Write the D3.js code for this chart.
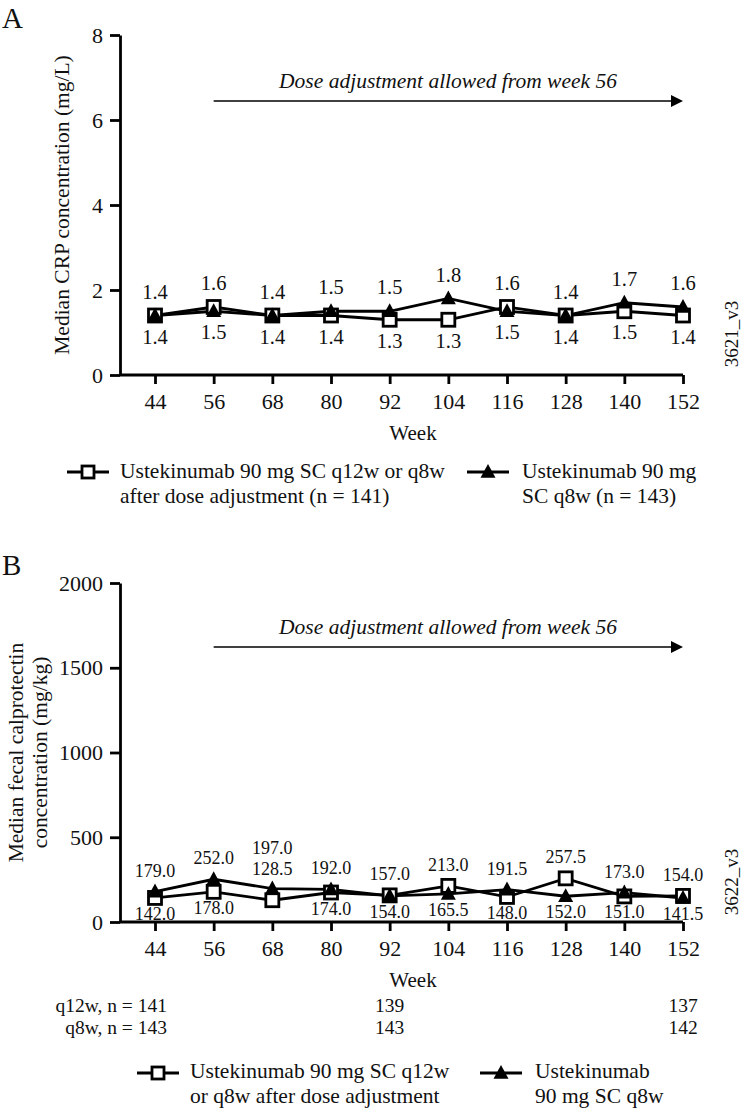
<!DOCTYPE html>
<html><head><meta charset="utf-8">
<script src="https://cdn.jsdelivr.net/npm/d3@7"></script>
<style>
html,body{margin:0;padding:0;background:#fff;}
svg text{font-family:"Liberation Serif","Times New Roman",serif;fill:#111;}
</style></head>
<body>
<svg id="c" width="742" height="1109"></svg>
<script>
// ---------- data ----------
const weeks = [44, 56, 68, 80, 92, 104, 116, 128, 140, 152];
const crpQ12 = [1.4, 1.6, 1.4, 1.4, 1.3, 1.3, 1.6, 1.4, 1.5, 1.4];
const crpQ8  = [1.4, 1.5, 1.4, 1.5, 1.5, 1.8, 1.5, 1.4, 1.7, 1.6];
const fcpQ12 = [142.0, 178.0, 128.5, 174.0, 157.0, 213.0, 148.0, 257.5, 151.0, 154.0];
const fcpQ8  = [179.0, 252.0, 197.0, 192.0, 154.0, 165.5, 191.5, 152.0, 173.0, 141.5];
const crpTicks = [0, 2, 4, 6, 8];
const fcpTicks = [0, 500, 1000, 1500, 2000];
const nWeeks = [44, 92, 152];
const nQ12 = [141, 139, 137];
const nQ8 = [143, 143, 142];
const fcpStackedWeeks = [68];
const doseText = "Dose adjustment allowed from week 56";
const doseStartWeek = 56;

const FONT = "Liberation Serif, Times New Roman, serif";
const svg = d3.select("#c");
const x = d3.scaleLinear().domain([44, 152]).range([155, 683]);
const axisLeftX = 120;

function squareSym(g, cx, cy, s) {
  g.append("rect").attr("x", cx - s/2).attr("y", cy - s/2).attr("width", s).attr("height", s)
    .attr("fill", "#fff").attr("stroke", "#000").attr("stroke-width", 2.8);
}
function triSym(g, cx, cy, s) {
  g.append("path").attr("d", `M${cx},${cy - s*0.62}L${cx + s/2 + 1},${cy + s*0.45}L${cx - s/2 - 1},${cy + s*0.45}Z`)
    .attr("fill", "#000");
}

function panel(opt) {
  const g = svg.append("g");
  const y = d3.scaleLinear().domain([opt.ticks[0], opt.ticks[opt.ticks.length-1]]).range([opt.y0, opt.y1]);
  g.append("text").attr("x", 2).attr("y", opt.letterY).attr("font-size", 29).text(opt.letter);
  // y axis
  const ya = g.append("g").attr("transform", `translate(${axisLeftX},0)`)
    .call(d3.axisLeft(y).tickValues(opt.ticks).tickSize(10).tickSizeOuter(0).tickFormat(d3.format("d")));
  ya.select(".domain").attr("stroke-width", 2.8);
  ya.selectAll(".tick line").attr("stroke-width", 2.8);
  ya.selectAll(".tick text").attr("font-size", 22).attr("x", -17);
  // x axis
  const xa = g.append("g").attr("transform", `translate(0,${opt.y0})`)
    .call(d3.axisBottom(x).tickValues(weeks).tickSize(9).tickSizeOuter(0));
  xa.select(".domain").remove();
  xa.append("line").attr("x1", axisLeftX).attr("x2", x(152)).attr("stroke", "#000").attr("stroke-width", 2.8);
  xa.selectAll(".tick line").attr("stroke-width", 2.8);
  xa.selectAll(".tick text").attr("font-size", 22).attr("dy", "1.0em");
  g.append("text").attr("x", 413).attr("y", opt.y0 + 65).attr("text-anchor", "middle").attr("font-size", 21).text("Week");
  // y label
  const yl = g.append("text").attr("transform", `translate(0,${(opt.y0+opt.y1)/2}) rotate(-90)`)
    .attr("text-anchor", "middle").attr("font-size", 21.5);
  opt.ylabel.forEach((t, i) => yl.append("tspan").attr("x", 0).attr("y", opt.ylabelX[i]).text(t));
  // side code
  g.append("text").attr("transform", `translate(738,${opt.codeY}) rotate(-90)`).attr("text-anchor", "middle")
    .attr("font-size", 19).text(opt.code);
  // dose arrow
  g.append("text").attr("x", 448).attr("y", opt.arrowY - 13).attr("text-anchor", "middle")
    .attr("font-style", "italic").attr("font-size", 21.5).text(doseText);
  g.append("line").attr("x1", x(doseStartWeek)).attr("x2", x(152) - 10).attr("y1", opt.arrowY).attr("y2", opt.arrowY)
    .attr("stroke", "#000").attr("stroke-width", 1.5);
  g.append("path").attr("d", `M${x(152)},${opt.arrowY}L${x(152)-12},${opt.arrowY-6}L${x(152)-12},${opt.arrowY+6}Z`).attr("fill", "#000");
  // lines
  const line = d3.line().x((d, i) => x(weeks[i])).y(d => y(d));
  g.append("path").attr("d", line(opt.a)).attr("fill", "none").attr("stroke", "#000").attr("stroke-width", 2.8);
  g.append("path").attr("d", line(opt.b)).attr("fill", "none").attr("stroke", "#000").attr("stroke-width", 2.8);
  opt.a.forEach((v, i) => squareSym(g, x(weeks[i]), y(v), 13));
  opt.b.forEach((v, i) => triSym(g, x(weeks[i]), y(v), 13));
  // data labels
  const fmt = d3.format(".1f");
  weeks.forEach((w, i) => {
    const hi = Math.max(opt.a[i], opt.b[i]), lo = Math.min(opt.a[i], opt.b[i]);
    if (opt.stacked.includes(w)) {
      g.append("text").attr("x", x(w)).attr("y", y(hi) - opt.topOff - 20).attr("text-anchor", "middle").attr("font-size", opt.lblSize).text(fmt(hi));
      g.append("text").attr("x", x(w)).attr("y", y(hi) - opt.topOff + 1).attr("text-anchor", "middle").attr("font-size", opt.lblSize).text(fmt(lo));
    } else {
      g.append("text").attr("x", x(w)).attr("y", y(hi) - opt.topOff).attr("text-anchor", "middle").attr("font-size", opt.lblSize).text(fmt(hi));
      g.append("text").attr("x", x(w)).attr("y", y(lo) + opt.botOff).attr("text-anchor", "middle").attr("font-size", opt.lblSize).text(fmt(lo));
    }
  });
  return {g, y};
}

panel({letter: "A", letterY: 28, ticks: crpTicks, y0: 375, y1: 35,
  ylabel: ["Median CRP concentration (mg/L)"], ylabelX: [69],
  code: "3621_v3", codeY: 334, arrowY: 101, a: crpQ12, b: crpQ8, stacked: [],
  topOff: 17, botOff: 28, lblSize: 20.5});

panel({letter: "B", letterY: 575, ticks: fcpTicks, y0: 922, y1: 583,
  ylabel: ["Median fecal calprotectin", "concentration (mg/kg)"], ylabelX: [23, 47],
  code: "3622_v3", codeY: 882, arrowY: 647, a: fcpQ12, b: fcpQ8, stacked: fcpStackedWeeks,
  topOff: 15, botOff: 22, lblSize: 18});

// n row (panel B)
nWeeks.forEach((w, i) => {
  const t1 = i === 0 ? "q12w, n = " + nQ12[i] : String(nQ12[i]);
  const t2 = i === 0 ? "q8w, n = " + nQ8[i] : String(nQ8[i]);
  const anchor = i === 0 ? "end" : "middle";
  const xx = i === 0 ? x(w) + 12 : x(w);
  svg.append("text").attr("x", xx).attr("y", 1012).attr("text-anchor", anchor).attr("font-size", 19.5).text(t1);
  svg.append("text").attr("x", xx).attr("y", 1034).attr("text-anchor", anchor).attr("font-size", 19.5).text(t2);
});

// legends
function legend(items) {
  items.forEach(it => {
    const g = svg.append("g");
    g.append("line").attr("x1", it.mx - 21).attr("x2", it.mx + 21).attr("y1", it.my).attr("y2", it.my)
      .attr("stroke", "#000").attr("stroke-width", 2.8);
    if (it.sym === "sq") squareSym(g, it.mx, it.my, 12); else triSym(g, it.mx, it.my, 13);
    it.lines.forEach((t, j) => g.append("text").attr("x", it.tx).attr("y", it.ty + j * 25).attr("font-size", 21.5).text(t));
  });
}
legend([
  {sym: "sq", mx: 88, my: 472, tx: 120, ty: 478, lines: ["Ustekinumab 90 mg SC q12w or q8w", "after dose adjustment (n = 141)"]},
  {sym: "tri", mx: 488, my: 472, tx: 522, ty: 478, lines: ["Ustekinumab 90 mg", "SC q8w (n = 143)"]},
  {sym: "sq", mx: 158, my: 1073, tx: 190, ty: 1078, lines: ["Ustekinumab 90 mg SC q12w", "or q8w after dose adjustment"]},
  {sym: "tri", mx: 501, my: 1073, tx: 535, ty: 1078, lines: ["Ustekinumab", "90 mg SC q8w"]}
]);
svg.selectAll("text").attr("font-family", FONT);
</script>
</body></html>
